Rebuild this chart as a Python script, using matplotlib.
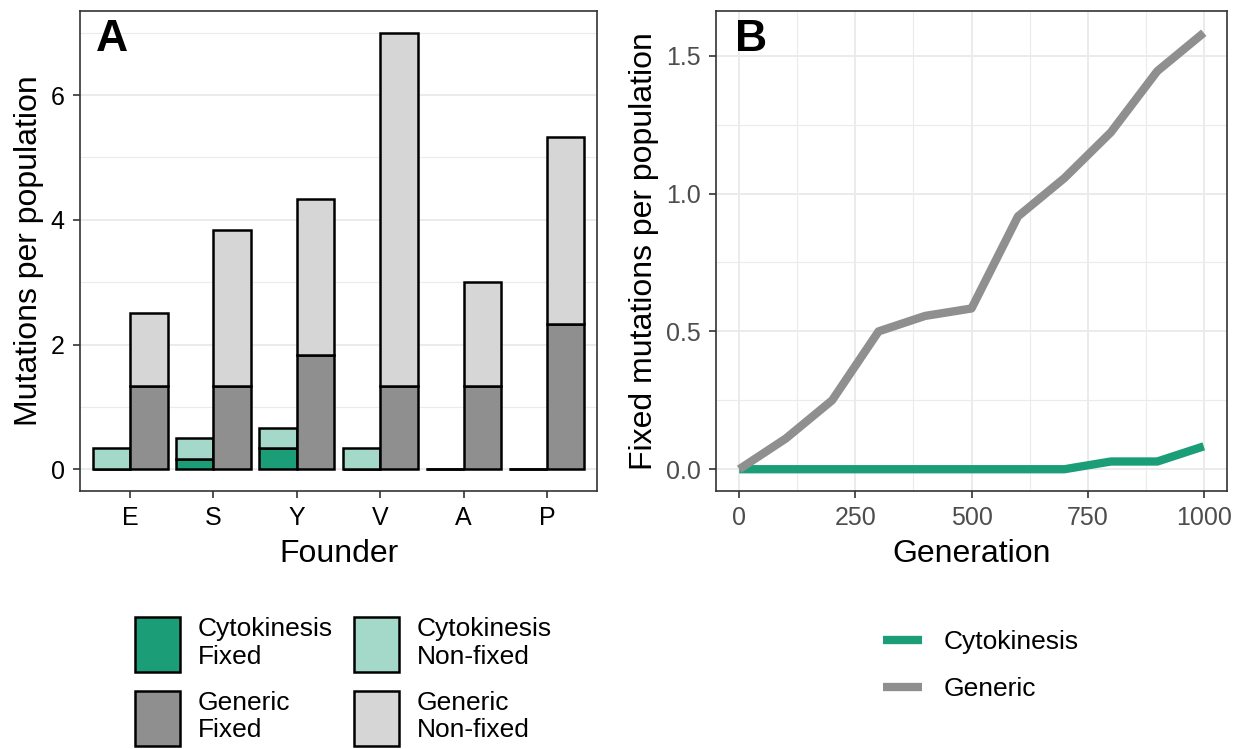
import matplotlib
matplotlib.use("Agg")
import matplotlib.pyplot as plt
import numpy as np
from matplotlib.patches import Patch
from matplotlib.lines import Line2D
from matplotlib.ticker import MultipleLocator

plt.rcParams['font.family'] = ['Liberation Sans', 'DejaVu Sans']

# ---- Data ----
founders = ["E", "S", "Y", "V", "A", "P"]
cyto_fixed = [0.0, 0.1667, 0.3333, 0.0, 0.0, 0.0]
cyto_nonfixed = [0.3333, 0.3333, 0.3333, 0.3333, 0.0, 0.0]
generic_fixed = [1.3333, 1.3333, 1.8333, 1.3333, 1.3333, 2.3333]
generic_nonfixed = [1.1667, 2.5, 2.5, 5.6667, 1.6667, 3.0]

generations = [0, 100, 200, 300, 400, 500, 600, 700, 800, 900, 1000]
generic_line = [0.0, 0.111, 0.25, 0.5, 0.556, 0.583, 0.917, 1.056, 1.222, 1.444, 1.583]
cyto_line = [0.0, 0.0, 0.0, 0.0, 0.0, 0.0, 0.0, 0.0, 0.028, 0.028, 0.083]

GREEN = "#1B9E77"
LGREEN = "#A4D8C8"
GREY = "#8F8F8F"
LGREY = "#D6D6D6"
GRID = "#EBEBEB"
BORDER = "#333333"

TICK_FS = 18
TITLE_FS = 23
LEG_FS = 19
LETTER_FS = 32

W, H = 1244, 749
fig = plt.figure(figsize=(W / 100, H / 100), dpi=100)

def px_axes(l, t, r, b):
    return fig.add_axes([l / W, 1 - b / H, (r - l) / W, (b - t) / H])

def style(ax):
    for s in ax.spines.values():
        s.set_color(BORDER)
        s.set_linewidth(1.2)
    ax.set_axisbelow(True)
    ax.tick_params(which='major', length=5, width=1.2, color=BORDER, labelsize=TICK_FS, pad=6)
    ax.tick_params(which='minor', length=0)

# ---- Panel A ----
axA = px_axes(80, 11, 597, 491)
style(axA)
x = np.arange(len(founders))
bw = 0.45
ek = dict(edgecolor="black", linewidth=1.8)
axA.bar(x - bw / 2, cyto_fixed, bw, color=GREEN, **ek)
axA.bar(x - bw / 2, cyto_nonfixed, bw, bottom=cyto_fixed, color=LGREEN, **ek)
axA.bar(x + bw / 2, generic_fixed, bw, color=GREY, **ek)
axA.bar(x + bw / 2, generic_nonfixed, bw, bottom=generic_fixed, color=LGREY, **ek)
axA.set_xlim(-0.6, 5.6)
axA.set_ylim(-0.35, 7.35)
axA.set_xticks(x)
axA.set_xticklabels(founders)
axA.set_yticks([0, 2, 4, 6])
axA.yaxis.set_minor_locator(MultipleLocator(1))
axA.grid(axis='y', which='major', color=GRID, linewidth=1.4)
axA.grid(axis='y', which='minor', color=GRID, linewidth=0.8)
axA.tick_params(labelcolor="black")
axA.set_xlabel("Founder", fontsize=TITLE_FS, labelpad=6)
axA.set_ylabel("Mutations per population", fontsize=TITLE_FS, labelpad=5)
axA.text(16 / 517, 1 - 8 / 480, "A", transform=axA.transAxes, fontsize=LETTER_FS,
         fontweight='bold', va='top', ha='left')

# ---- Panel B ----
axB = px_axes(716, 11, 1227, 491)
style(axB)
axB.plot(generations, cyto_line, color=GREEN, linewidth=6, solid_capstyle='butt',
         solid_joinstyle='round')
axB.plot(generations, generic_line, color=GREY, linewidth=6, solid_capstyle='butt',
         solid_joinstyle='round')
axB.set_xlim(-50, 1050)
axB.set_ylim(-0.079, 1.662)
axB.set_xticks([0, 250, 500, 750, 1000])
axB.set_yticks([0.0, 0.5, 1.0, 1.5])
axB.set_yticklabels(["0.0", "0.5", "1.0", "1.5"])
axB.xaxis.set_minor_locator(MultipleLocator(125))
axB.yaxis.set_minor_locator(MultipleLocator(0.25))
axB.grid(which='major', color=GRID, linewidth=1.4)
axB.grid(which='minor', color=GRID, linewidth=0.8)
axB.tick_params(labelcolor="#4D4D4D")
axB.set_xlabel("Generation", fontsize=TITLE_FS, labelpad=6)
axB.set_ylabel("Fixed mutations per population", fontsize=TITLE_FS, labelpad=5)
axB.text(19 / 511, 1 - 8 / 480, "B", transform=axB.transAxes, fontsize=LETTER_FS,
         fontweight='bold', va='top', ha='left')

# ---- Legends ----
hA = [Patch(facecolor=GREEN, edgecolor="black", linewidth=1.8),
      Patch(facecolor=GREY, edgecolor="black", linewidth=1.8),
      Patch(facecolor=LGREEN, edgecolor="black", linewidth=1.8),
      Patch(facecolor=LGREY, edgecolor="black", linewidth=1.8)]
lA = ["Cytokinesis\nFixed", "Generic\nFixed", "Cytokinesis\nNon-fixed", "Generic\nNon-fixed"]
legA = fig.legend(hA, lA, ncol=2, loc='upper left', bbox_to_anchor=(135 / W, 1 - 617 / H),
                  frameon=False, fontsize=LEG_FS, handlelength=1.7, handleheight=2.83,
                  handletextpad=0.68, columnspacing=0.8, labelspacing=0.7,
                  borderpad=0, borderaxespad=0)

hB = [Line2D([], [], color=GREEN, linewidth=6, solid_capstyle='butt'),
      Line2D([], [], color=GREY, linewidth=6, solid_capstyle='butt')]
legB = fig.legend(hB, ["Cytokinesis", "Generic"], loc='upper left',
                  bbox_to_anchor=(883 / W, 1 - 630 / H), frameon=False, fontsize=LEG_FS,
                  handlelength=1.48, handletextpad=0.8, labelspacing=0.88,
                  borderpad=0, borderaxespad=0)

fig.savefig("out.png", dpi=100)
